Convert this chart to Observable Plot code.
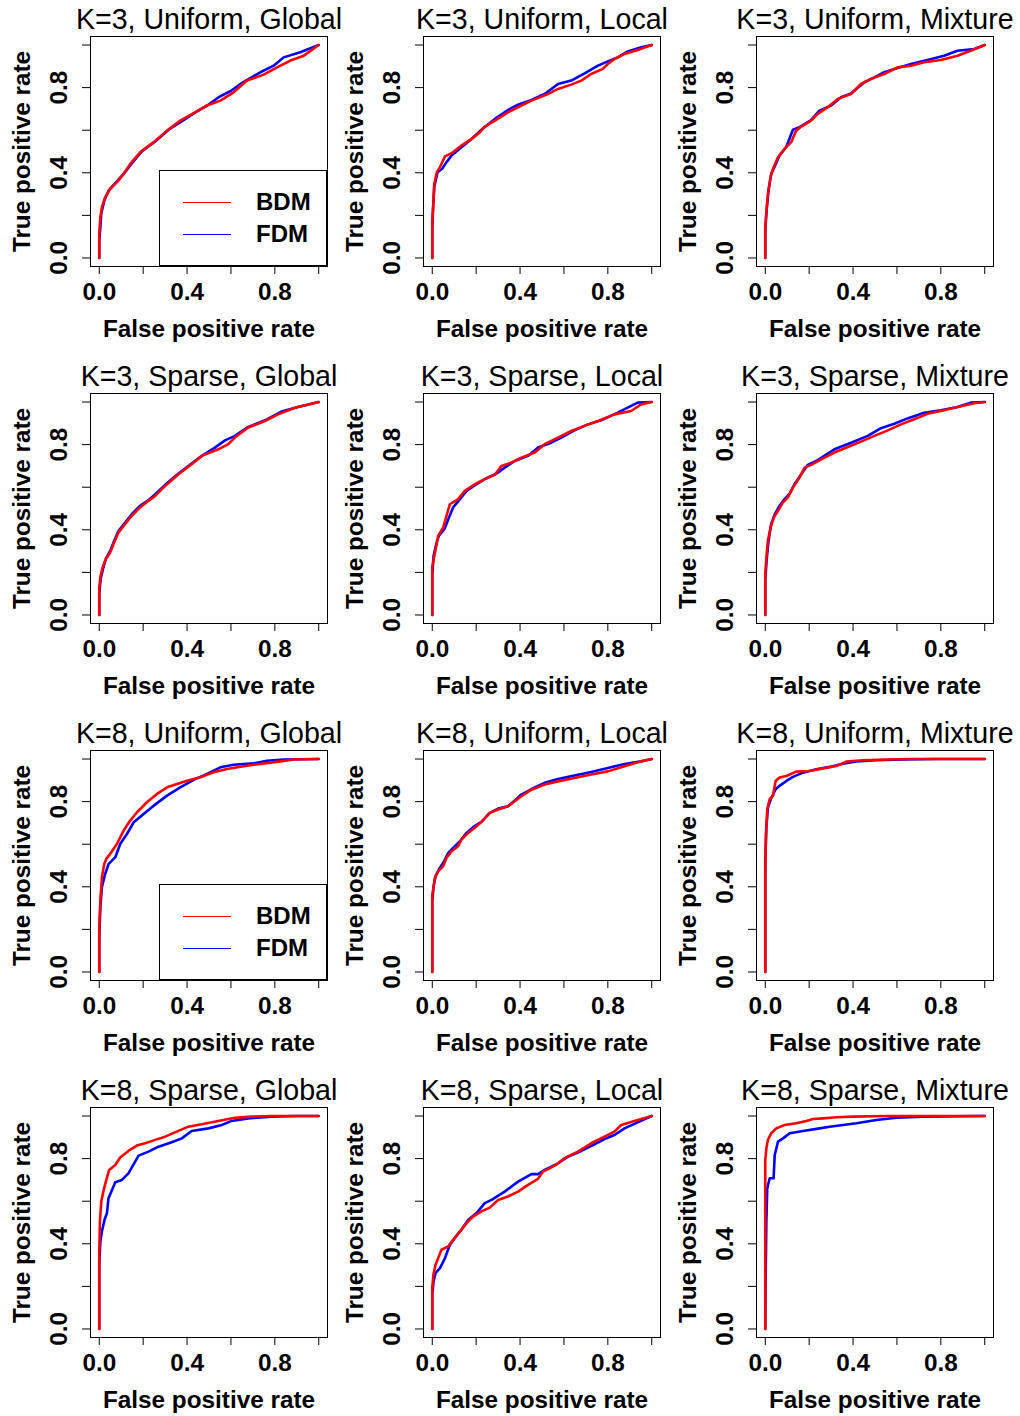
<!DOCTYPE html>
<html><head><meta charset="utf-8">
<script src="https://cdn.jsdelivr.net/npm/d3@7"></script>
<script src="https://cdn.jsdelivr.net/npm/@observablehq/plot@0.6"></script>
<style>
body{margin:0;background:#fff;overflow:hidden;font-family:"Liberation Sans",Arial,sans-serif;}
#grid{position:relative;width:1020px;height:1416px;overflow:hidden;}
.panel{position:absolute;width:333px;height:357px;}
.legend{position:absolute;left:159px;top:170px;width:168px;height:96px;border:1px solid #000;box-sizing:border-box;background:#fff;}
.legend .sw{position:absolute;left:23px;width:48px;height:0;border-top:1.5px solid;}
.legend .lb{position:absolute;left:96px;font-weight:bold;font-size:24px;line-height:24px;color:#000;}
</style></head>
<body><div id="grid"></div>
<script>
// ---- data: [false positive rate, true positive rate] ----
const k3UniGloBDM=[[0,0],[0,0.114],[0.005,0.192],[0.012,0.239],[0.027,0.286],[0.05,0.325],[0.081,0.356],[0.111,0.395],[0.141,0.442],[0.187,0.497],[0.248,0.544],[0.309,0.598],[0.369,0.645],[0.43,0.68],[0.491,0.716],[0.552,0.739],[0.612,0.778],[0.673,0.833],[0.749,0.861],[0.81,0.895],[0.871,0.927],[0.932,0.95],[1,1]];
const k3UniGloFDM=[[0,0],[0,0.083],[0.005,0.145],[0.009,0.208],[0.023,0.27],[0.043,0.317],[0.073,0.352],[0.111,0.395],[0.149,0.445],[0.195,0.502],[0.255,0.547],[0.316,0.602],[0.377,0.642],[0.438,0.684],[0.498,0.72],[0.544,0.755],[0.597,0.783],[0.643,0.817],[0.734,0.872],[0.795,0.903],[0.84,0.942],[0.916,0.966],[1,1]];
const k3UniLocBDM=[[0,0],[0,0.169],[0.005,0.255],[0.009,0.348],[0.021,0.403],[0.035,0.427],[0.058,0.477],[0.088,0.492],[0.133,0.528],[0.179,0.559],[0.217,0.591],[0.239,0.617],[0.285,0.645],[0.345,0.684],[0.406,0.716],[0.452,0.739],[0.527,0.77],[0.573,0.794],[0.633,0.814],[0.679,0.833],[0.724,0.864],[0.777,0.888],[0.8,0.911],[0.83,0.934],[0.876,0.958],[0.936,0.977],[1,1]];
const k3UniLocFDM=[[0,0],[0,0.13],[0.003,0.223],[0.009,0.333],[0.024,0.403],[0.045,0.419],[0.065,0.45],[0.088,0.481],[0.133,0.52],[0.179,0.559],[0.224,0.602],[0.285,0.653],[0.345,0.695],[0.391,0.72],[0.452,0.742],[0.512,0.77],[0.573,0.817],[0.633,0.833],[0.694,0.867],[0.755,0.903],[0.8,0.923],[0.845,0.942],[0.891,0.97],[0.952,0.989],[1,1]];
const k3UniMixBDM=[[0,0],[0,0.145],[0.005,0.216],[0.012,0.302],[0.024,0.38],[0.035,0.419],[0.058,0.473],[0.088,0.513],[0.118,0.544],[0.141,0.598],[0.164,0.617],[0.209,0.645],[0.239,0.677],[0.285,0.708],[0.33,0.747],[0.391,0.77],[0.436,0.817],[0.482,0.841],[0.542,0.864],[0.603,0.895],[0.664,0.903],[0.724,0.919],[0.8,0.93],[0.876,0.95],[0.936,0.973],[1,1]];
const k3UniMixFDM=[[0,0],[0,0.13],[0.006,0.223],[0.015,0.317],[0.027,0.395],[0.042,0.427],[0.065,0.481],[0.095,0.52],[0.126,0.602],[0.156,0.614],[0.209,0.648],[0.247,0.692],[0.3,0.716],[0.345,0.755],[0.391,0.773],[0.452,0.825],[0.497,0.848],[0.542,0.872],[0.603,0.892],[0.664,0.911],[0.739,0.93],[0.815,0.95],[0.876,0.973],[0.952,0.981],[1,1]];
const k3SpaGloBDM=[[0,0],[0,0.13],[0.005,0.177],[0.015,0.223],[0.03,0.263],[0.05,0.294],[0.065,0.333],[0.088,0.388],[0.118,0.427],[0.148,0.466],[0.186,0.505],[0.224,0.536],[0.255,0.559],[0.3,0.606],[0.361,0.661],[0.421,0.708],[0.467,0.747],[0.542,0.778],[0.588,0.802],[0.618,0.833],[0.679,0.88],[0.755,0.911],[0.815,0.942],[0.891,0.973],[1,1]];
const k3SpaGloFDM=[[0,0],[0,0.098],[0.006,0.169],[0.017,0.216],[0.03,0.263],[0.05,0.302],[0.065,0.341],[0.088,0.395],[0.118,0.434],[0.148,0.473],[0.186,0.513],[0.224,0.539],[0.255,0.567],[0.3,0.611],[0.361,0.664],[0.421,0.711],[0.467,0.747],[0.527,0.786],[0.573,0.82],[0.618,0.841],[0.679,0.883],[0.755,0.914],[0.83,0.955],[0.906,0.977],[1,1]];
const k3SpaLocBDM=[[0,0],[0,0.223],[0.008,0.27],[0.02,0.333],[0.027,0.372],[0.05,0.411],[0.065,0.466],[0.08,0.52],[0.118,0.544],[0.148,0.583],[0.194,0.614],[0.239,0.638],[0.285,0.658],[0.315,0.7],[0.361,0.716],[0.406,0.739],[0.467,0.763],[0.512,0.802],[0.573,0.833],[0.633,0.864],[0.694,0.888],[0.755,0.911],[0.83,0.942],[0.906,0.958],[0.952,0.989],[1,1]];
const k3SpaLocFDM=[[0,0],[0,0.192],[0.006,0.278],[0.02,0.341],[0.03,0.372],[0.055,0.403],[0.073,0.45],[0.095,0.505],[0.126,0.544],[0.156,0.583],[0.202,0.614],[0.247,0.642],[0.292,0.664],[0.33,0.692],[0.376,0.723],[0.436,0.747],[0.482,0.786],[0.542,0.809],[0.588,0.833],[0.648,0.867],[0.709,0.895],[0.77,0.914],[0.845,0.95],[0.936,0.997],[1,1]];
const k3SpaMixBDM=[[0,0],[0,0.192],[0.005,0.27],[0.012,0.348],[0.024,0.411],[0.039,0.458],[0.058,0.489],[0.08,0.528],[0.103,0.552],[0.126,0.598],[0.156,0.645],[0.179,0.692],[0.209,0.705],[0.255,0.731],[0.315,0.763],[0.376,0.789],[0.436,0.814],[0.497,0.841],[0.558,0.867],[0.618,0.895],[0.679,0.919],[0.739,0.945],[0.8,0.958],[0.876,0.977],[0.952,0.994],[1,1]];
const k3SpaMixFDM=[[0,0],[0,0.161],[0.006,0.255],[0.015,0.348],[0.027,0.427],[0.042,0.47],[0.065,0.513],[0.088,0.544],[0.111,0.57],[0.133,0.614],[0.164,0.661],[0.194,0.705],[0.239,0.727],[0.315,0.778],[0.391,0.809],[0.467,0.841],[0.527,0.877],[0.588,0.898],[0.648,0.923],[0.724,0.95],[0.8,0.961],[0.876,0.977],[0.936,0.997],[1,1]];
const k8UniGloBDM=[[0,0],[0,0.211],[0.005,0.336],[0.012,0.445],[0.023,0.508],[0.032,0.531],[0.05,0.555],[0.081,0.602],[0.111,0.664],[0.141,0.711],[0.172,0.75],[0.217,0.797],[0.263,0.836],[0.309,0.867],[0.354,0.883],[0.4,0.898],[0.46,0.914],[0.521,0.938],[0.582,0.953],[0.643,0.964],[0.734,0.977],[0.825,0.989],[0.886,0.998],[1,1]];
const k8UniGloFDM=[[0,0],[0,0.164],[0.005,0.305],[0.012,0.398],[0.027,0.461],[0.043,0.508],[0.073,0.539],[0.096,0.602],[0.126,0.648],[0.157,0.703],[0.202,0.742],[0.248,0.781],[0.309,0.828],[0.369,0.867],[0.43,0.902],[0.491,0.93],[0.552,0.961],[0.612,0.973],[0.704,0.98],[0.764,0.992],[0.84,0.998],[1,1]];
const k8UniLocBDM=[[0,0],[0,0.356],[0.005,0.395],[0.012,0.442],[0.027,0.473],[0.05,0.497],[0.065,0.536],[0.088,0.567],[0.118,0.591],[0.133,0.622],[0.164,0.653],[0.194,0.677],[0.224,0.705],[0.262,0.747],[0.3,0.763],[0.345,0.778],[0.376,0.802],[0.406,0.825],[0.452,0.856],[0.512,0.88],[0.573,0.895],[0.648,0.911],[0.724,0.927],[0.8,0.942],[0.876,0.966],[0.952,0.989],[1,1]];
const k8UniLocFDM=[[0,0],[0,0.333],[0.006,0.403],[0.015,0.45],[0.03,0.481],[0.05,0.513],[0.073,0.559],[0.095,0.583],[0.126,0.614],[0.156,0.653],[0.186,0.68],[0.224,0.705],[0.262,0.747],[0.3,0.767],[0.345,0.778],[0.376,0.805],[0.406,0.833],[0.452,0.859],[0.512,0.888],[0.573,0.906],[0.648,0.923],[0.724,0.939],[0.8,0.958],[0.876,0.977],[0.952,0.989],[1,1]];
const k8UniMixBDM=[[0,0],[0,0.476],[0.003,0.647],[0.009,0.764],[0.02,0.811],[0.035,0.827],[0.047,0.897],[0.065,0.913],[0.096,0.92],[0.141,0.941],[0.202,0.944],[0.263,0.956],[0.324,0.967],[0.369,0.988],[0.445,0.994],[0.552,0.998],[0.658,1],[1,1]];
const k8UniMixFDM=[[0,0],[0,0.523],[0.005,0.679],[0.012,0.772],[0.027,0.816],[0.047,0.858],[0.065,0.874],[0.096,0.897],[0.126,0.916],[0.172,0.936],[0.233,0.952],[0.293,0.963],[0.354,0.978],[0.415,0.988],[0.506,0.994],[0.628,0.998],[0.78,1],[1,1]];
const k8SpaGloBDM=[[0,0],[0,0.364],[0.003,0.505],[0.009,0.598],[0.02,0.653],[0.03,0.692],[0.045,0.747],[0.073,0.77],[0.095,0.805],[0.133,0.836],[0.171,0.861],[0.209,0.872],[0.255,0.888],[0.3,0.903],[0.345,0.923],[0.406,0.95],[0.467,0.961],[0.542,0.977],[0.618,0.992],[0.694,0.997],[0.785,1],[1,1]];
const k8SpaGloFDM=[[0,0],[0,0.302],[0.005,0.411],[0.012,0.458],[0.024,0.513],[0.035,0.544],[0.042,0.614],[0.058,0.653],[0.073,0.689],[0.103,0.7],[0.133,0.731],[0.179,0.814],[0.224,0.833],[0.27,0.856],[0.33,0.877],[0.376,0.895],[0.421,0.93],[0.497,0.942],[0.558,0.958],[0.603,0.977],[0.679,0.989],[0.785,0.997],[0.906,1],[1,1]];
const k8SpaLocBDM=[[0,0],[0,0.192],[0.005,0.255],[0.015,0.302],[0.03,0.341],[0.042,0.372],[0.073,0.388],[0.095,0.419],[0.126,0.458],[0.156,0.497],[0.186,0.528],[0.224,0.552],[0.262,0.57],[0.3,0.606],[0.345,0.622],[0.391,0.645],[0.436,0.677],[0.482,0.705],[0.505,0.739],[0.558,0.767],[0.603,0.802],[0.664,0.833],[0.724,0.872],[0.785,0.903],[0.83,0.927],[0.861,0.958],[0.921,0.977],[1,1]];
const k8SpaLocFDM=[[0,0],[0,0.161],[0.006,0.223],[0.015,0.263],[0.035,0.286],[0.058,0.333],[0.08,0.395],[0.103,0.427],[0.133,0.466],[0.164,0.513],[0.202,0.544],[0.239,0.591],[0.27,0.606],[0.33,0.645],[0.391,0.692],[0.452,0.727],[0.482,0.727],[0.512,0.747],[0.573,0.778],[0.618,0.809],[0.679,0.836],[0.739,0.867],[0.785,0.892],[0.83,0.911],[0.876,0.942],[0.936,0.97],[1,1]];
const k8SpaMixBDM=[[0,0],[0,0.427],[0,0.794],[0.005,0.848],[0.012,0.888],[0.027,0.919],[0.05,0.942],[0.088,0.958],[0.141,0.966],[0.187,0.977],[0.217,0.986],[0.263,0.989],[0.324,0.994],[0.4,0.997],[0.552,1],[1,1]];
const k8SpaMixFDM=[[0,0],[0.002,0.27],[0.005,0.505],[0.009,0.661],[0.02,0.708],[0.038,0.708],[0.043,0.817],[0.058,0.88],[0.081,0.895],[0.111,0.919],[0.172,0.93],[0.248,0.942],[0.293,0.95],[0.354,0.958],[0.415,0.966],[0.506,0.981],[0.597,0.992],[0.719,0.997],[1,1]];

const panelTitles=["K=3, Uniform, Global","K=3, Uniform, Local","K=3, Uniform, Mixture","K=3, Sparse, Global","K=3, Sparse, Local","K=3, Sparse, Mixture","K=8, Uniform, Global","K=8, Uniform, Local","K=8, Uniform, Mixture","K=8, Sparse, Global","K=8, Sparse, Local","K=8, Sparse, Mixture"];
const bdmSeries=[k3UniGloBDM,k3UniLocBDM,k3UniMixBDM,k3SpaGloBDM,k3SpaLocBDM,k3SpaMixBDM,k8UniGloBDM,k8UniLocBDM,k8UniMixBDM,k8SpaGloBDM,k8SpaLocBDM,k8SpaMixBDM];
const fdmSeries=[k3UniGloFDM,k3UniLocFDM,k3UniMixFDM,k3SpaGloFDM,k3SpaLocFDM,k3SpaMixFDM,k8UniGloFDM,k8UniLocFDM,k8UniMixFDM,k8SpaGloFDM,k8SpaLocFDM,k8SpaMixFDM];
const seriesNames=["BDM","FDM"];
const seriesColors=["#ff0000","#0000ff"];
const axisTicks=[0,0.2,0.4,0.6,0.8,1];
const tickLabels=[0,0.4,0.8];
const xTitle="False positive rate";
const yTitle="True positive rate";
const legendPanels=[0,6];

const FONT='"Liberation Sans", Arial, sans-serif';
const grid=document.getElementById("grid");

panelTitles.forEach((title,i)=>{
  const row=Math.floor(i/3), col=i%3;
  const div=document.createElement("div");
  div.className="panel";
  div.style.left=(col*333)+"px";
  div.style.top=(row*357)+"px";
  const bold={fontWeight:"bold",fontSize:24.3,fill:"#000"};
  const chart=Plot.plot({
    width:333,height:357,
    marginLeft:90,marginRight:6,marginTop:36,marginBottom:91,
    style:{background:"transparent",overflow:"visible",fontFamily:FONT,color:"#000"},
    x:{domain:[-0.04,1.04]},
    y:{domain:[-0.04,1.04]},
    marks:[
      Plot.axisX({ticks:axisTicks,tickSize:8,tickFormat:()=>"",label:null,stroke:"#000"}),
      Plot.axisY({ticks:axisTicks,tickSize:8,tickFormat:()=>"",label:null,stroke:"#000"}),
      Plot.line(fdmSeries[i],{x:d=>d[0],y:d=>d[1],stroke:seriesColors[1],strokeWidth:2.6}),
      Plot.line(bdmSeries[i],{x:d=>d[0],y:d=>d[1],stroke:seriesColors[0],strokeWidth:2.6}),
      Plot.frame({stroke:"#000",strokeWidth:1}),
      Plot.text(tickLabels,{x:d=>d,frameAnchor:"bottom",dy:26,text:d=>d.toFixed(1),textAnchor:"middle",lineAnchor:"middle",...bold}),
      Plot.text(tickLabels,{y:d=>d,frameAnchor:"left",dx:-31,rotate:-90,text:d=>d.toFixed(1),textAnchor:"middle",lineAnchor:"middle",...bold}),
      Plot.text([xTitle],{frameAnchor:"bottom",dy:63,text:d=>d,textAnchor:"middle",lineAnchor:"middle",...bold}),
      Plot.text([yTitle],{frameAnchor:"left",dx:-68,rotate:-90,text:d=>d,textAnchor:"middle",lineAnchor:"middle",...bold}),
      Plot.text([title],{frameAnchor:"top",dy:-17,text:d=>d,textAnchor:"middle",lineAnchor:"middle",fontSize:28.6,fill:"#000"})
    ]
  });
  div.appendChild(chart);
  if(legendPanels.includes(i)){
    const lg=document.createElement("div");
    lg.className="legend";
    seriesNames.forEach((name,k)=>{
      const sw=document.createElement("div");
      sw.className="sw";
      sw.style.top=(31+k*32)+"px";
      sw.style.borderTopColor=seriesColors[k];
      lg.appendChild(sw);
      const lb=document.createElement("div");
      lb.className="lb";
      lb.style.top=(19+k*32)+"px";
      lb.textContent=name;
      lg.appendChild(lb);
    });
    div.appendChild(lg);
  }
  grid.appendChild(div);
});
</script>
</body></html>
